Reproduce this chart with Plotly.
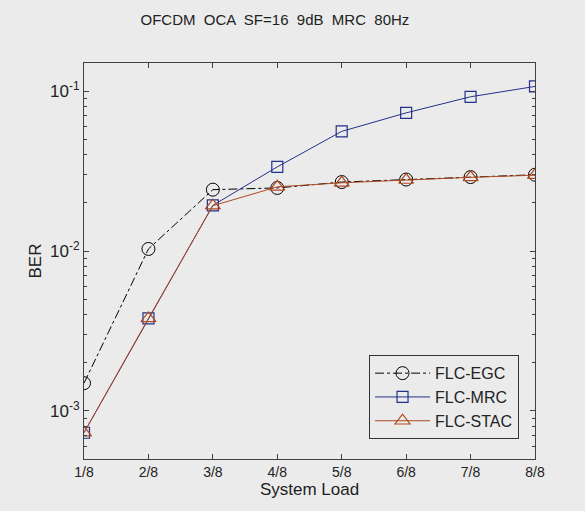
import plotly.graph_objects as go

loads = [1, 2, 3, 4, 5, 6, 7, 8]
load_labels = ["1/8", "2/8", "3/8", "4/8", "5/8", "6/8", "7/8", "8/8"]
ber_egc = [1.49e-3, 1.03e-2, 2.42e-2, 2.48e-2, 2.70e-2, 2.80e-2, 2.90e-2, 3.00e-2]
ber_mrc = [7.3e-4, 3.79e-3, 1.93e-2, 3.36e-2, 5.60e-2, 7.31e-2, 9.22e-2, 1.07e-1]
ber_stac = [7.3e-4, 3.79e-3, 1.92e-2, 2.52e-2, 2.67e-2, 2.78e-2, 2.89e-2, 2.98e-2]

ber_ticks = [1e-3, 1e-2, 1e-1]
ber_tick_labels = ["10<sup>-3</sup>", "10<sup>-2</sup>", "10<sup>-1</sup>"]
minor_vals = [k * 10.0 ** e for e in (-4, -3, -2, -1) for k in range(2, 10)]

bg = "#ebebeb"
font = dict(family="Liberation Sans, Arial, sans-serif", size=14, color="#222222")

fig = go.Figure()
fig.add_trace(go.Scatter(
    x=loads, y=ber_egc, name="FLC-EGC", mode="lines+markers",
    line=dict(color="black", width=1, dash="dashdot"),
    marker=dict(symbol="circle-open", size=13, color="black", line=dict(width=1))))
fig.add_trace(go.Scatter(
    x=loads, y=ber_mrc, name="FLC-MRC", mode="lines+markers",
    line=dict(color="#23318c", width=1),
    marker=dict(symbol="square-open", size=11, color="#23318c", line=dict(width=1.2))))
fig.add_trace(go.Scatter(
    x=loads, y=ber_stac, name="FLC-STAC", mode="lines+markers",
    line=dict(color="#b04a22", width=1),
    marker=dict(symbol="triangle-up-open", size=13, color="#b04a22", line=dict(width=1.2))))

fig.update_layout(
    width=585, height=511,
    paper_bgcolor=bg, plot_bgcolor=bg,
    font=font,
    margin=dict(l=84, r=50, t=63, b=52),
    title=dict(text="OFCDM  OCA  SF=16  9dB  MRC  80Hz", x=0.47, xanchor="center",
               y=0.962, yanchor="middle", font=dict(size=15, color="#222222")),
    showlegend=True,
    legend=dict(x=0.632, y=0.262, xanchor="left", yanchor="top",
                bgcolor=bg, bordercolor="#333333", borderwidth=1,
                font=dict(size=16), itemwidth=55, tracegroupgap=0),
)
fig.update_xaxes(
    range=[1, 8], tickmode="array", tickvals=loads, ticktext=load_labels,
    showgrid=False, zeroline=False, showline=True, linecolor="#404040", linewidth=1,
    mirror="ticks", ticks="inside", ticklen=5, tickcolor="#404040",
    title=dict(text="System Load", standoff=4),
)
fig.update_yaxes(
    type="log", range=[-3.301, -0.824],
    tickmode="array", tickvals=ber_ticks, ticktext=ber_tick_labels,
    tickfont=dict(size=17),
    showgrid=False, zeroline=False, showline=True, linecolor="#404040", linewidth=1,
    mirror="ticks", ticks="inside", ticklen=5, tickcolor="#404040",
    minor=dict(tickmode="array", tickvals=minor_vals, ticks="inside", ticklen=3,
               tickcolor="#404040", showgrid=False),
    title=dict(text="BER", standoff=4),
)

fig.write_html("out.html", config={"displayModeBar": False},
               post_script="document.body.style.margin='0';")
